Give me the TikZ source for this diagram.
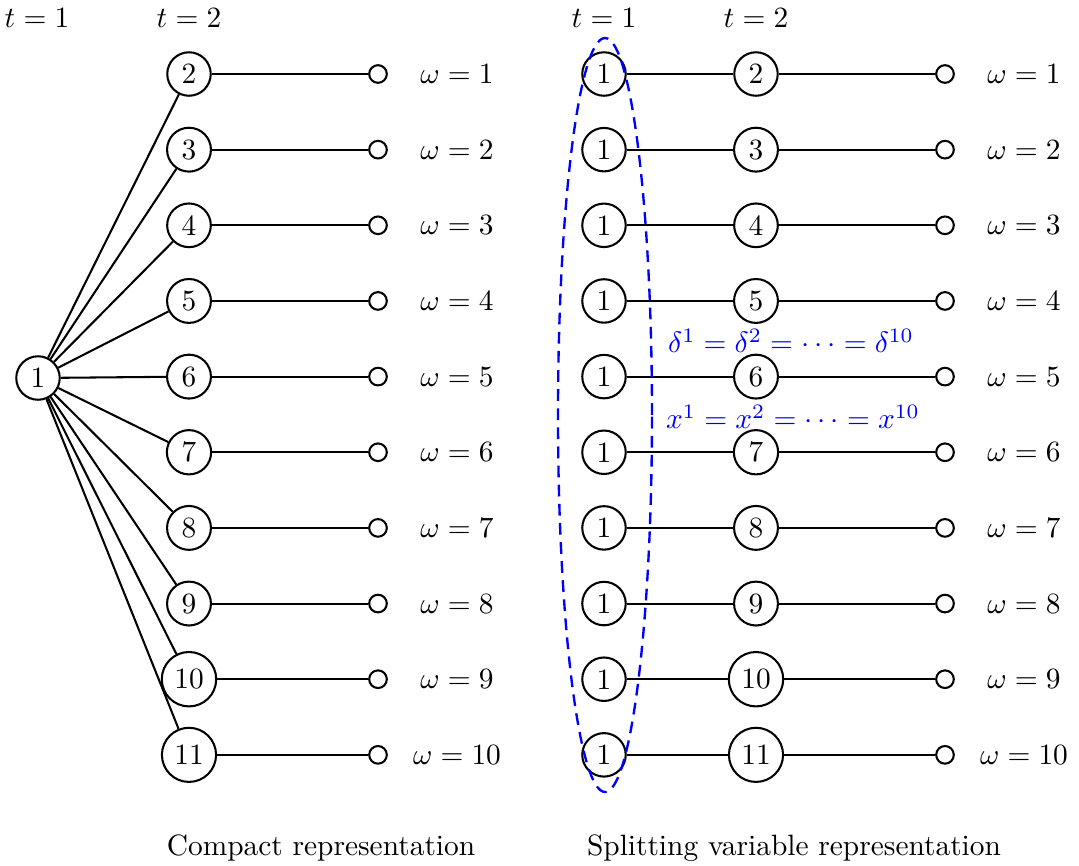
\documentclass[tikz,border=0pt]{standalone}
\usetikzlibrary{shapes.geometric}
\begin{document}
\begin{tikzpicture}[x=0.34pt,y=-0.34pt,
  nd/.style={draw,circle,line width=0.7pt,inner sep=2.3pt},
  term/.style={draw,circle,line width=0.7pt,inner sep=0pt,minimum size=6pt},
  ln/.style={line width=0.7pt}]
\useasboundingbox (0,0) rectangle (1079,866);
\node (tl1) at (37,18) {$t=1$};
\node (tl2) at (189,18) {$t=2$};
\node (tr1) at (604,18) {$t=1$};
\node (tr2) at (756,18) {$t=2$};
\node[nd] (L1) at (38,378) {1};
\foreach \i in {1,...,10}{
  \pgfmathtruncatemacro{\k}{\i+1}
  \pgfmathsetmacro{\yy}{74+75.65*(\i-1)}
  \node[nd] (L\k) at (189,\yy) {\k};
  \node[term] (LT\i) at (378,\yy) {};
  \node (LW\i) at (457,\yy) {$\omega=\i$};
  \draw[ln] (L1) -- (L\k);
  \draw[ln] (L\k) -- (LT\i);
  \node[nd] (R1\i) at (604,\yy) {1};
  \node[nd] (R\k) at (756,\yy) {\k};
  \node[term] (RT\i) at (945,\yy) {};
  \node (RW\i) at (1024,\yy) {$\omega=\i$};
  \draw[ln] (R1\i) -- (R\k);
  \draw[ln] (R\k) -- (RT\i);
}
\node[draw=blue,thick,dash pattern=on 4pt off 2.5pt,ellipse,minimum width=94*0.34pt,minimum height=754*0.34pt,inner sep=0pt] (ell) at (605,415) {};
\node[text=blue] (dl) at (791,341) {$\delta^1=\delta^2=\cdots=\delta^{10}$};
\node[text=blue] (xl) at (793,417) {$x^1=x^2=\cdots=x^{10}$};
\node (c1) at (321,848) {Compact representation};
\node (c2) at (794,848) {Splitting variable representation};
\end{tikzpicture}
\end{document}
